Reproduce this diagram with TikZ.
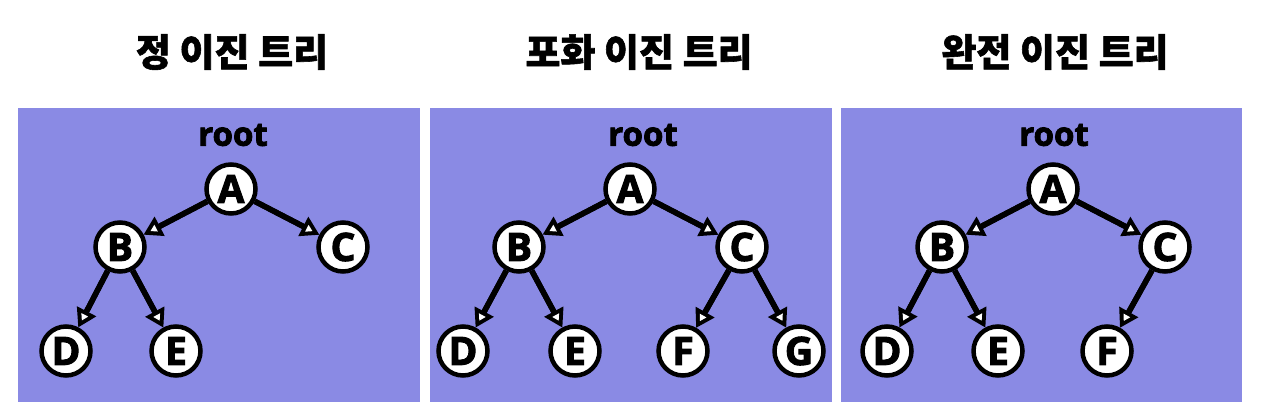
\documentclass[tikz,border=0pt]{standalone}
\usepackage{fontspec}
\setmainfont{Open Sans}[BoldFeatures={FakeBold=2.5}]
\newfontfamily\krfont{Noto Sans CJK KR}[BoldFeatures={FakeBold=1.5}]
\usepackage{tikz}
\usetikzlibrary{arrows.meta, positioning}
\definecolor{panelblue}{RGB}{138,138,228}
\tikzset{
  panel/.style    = {fill=panelblue, draw=none},
  treenode/.style = {circle, draw, line width=4.5pt, fill=white,
                     minimum size=49pt, inner sep=0pt,
                     font=\fontsize{39}{40}\selectfont\bfseries},
  rootlbl/.style  = {font=\fontsize{33}{34}\selectfont\bfseries},
  title/.style    = {font=\krfont\fontsize{38}{40}\selectfont\bfseries},
  link/.style     = {-{Triangle[length=18pt, width=22pt, line width=0pt]},
                     line width=5.5pt},
  linkhole/.style = {-{Triangle[color=white, fill=white, length=6.3pt,
                     width=7.7pt, line width=0pt]},
                     line width=5.5pt, shorten >=7.7pt},
}

\begin{document}
\begin{tikzpicture}[x=1pt, y=-1pt]
  \useasboundingbox (0,0) rectangle (1268,414);

  % panels
  \fill[panel] (18,108) rectangle (420,402);
  \fill[panel] (430,108) rectangle (832,402);
  \fill[panel] (841,108) rectangle (1242,402);

  \node[title] (t1) at (232,52) {정 이진 트리};
  \node[title] (t2) at (639,52) {포화 이진 트리};
  \node[title] (t3) at (1055,52) {완전 이진 트리};

  % full binary tree
  \node[rootlbl] (r1) at (233,135) {root};
  \node[treenode] (a1) at (231,189) {A};
  \node[treenode] (b1) at (120,247) {B};
  \node[treenode] (c1) at (343,247) {C};
  \node[treenode] (d1) at (66,351) {D};
  \node[treenode] (e1) at (176,351) {E};

  % perfect binary tree
  \node[rootlbl] (r2) at (643,135) {root};
  \node[treenode] (a2) at (630,189) {A};
  \node[treenode] (b2) at (519,247) {B};
  \node[treenode] (c2) at (742,247) {C};
  \node[treenode] (d2) at (463,351) {D};
  \node[treenode] (e2) at (575,351) {E};
  \node[treenode] (f2) at (683,351) {F};
  \node[treenode] (g2) at (799,351) {G};

  % complete binary tree
  \node[rootlbl] (r3) at (1054,135) {root};
  \node[treenode] (a3) at (1053,189) {A};
  \node[treenode] (b3) at (942,247) {B};
  \node[treenode] (c3) at (1165,247) {C};
  \node[treenode] (d3) at (887,351) {D};
  \node[treenode] (e3) at (998,351) {E};
  \node[treenode] (f3) at (1107,351) {F};

  % parent -> child links
  \foreach \u/\v in {a1/b1, a1/c1, b1/d1, b1/e1,
                     a2/b2, a2/c2, b2/d2, b2/e2, c2/f2, c2/g2,
                     a3/b3, a3/c3, b3/d3, b3/e3, c3/f3} {
    \draw[link] (\u) -- (\v);
    \draw[linkhole] (\u) -- (\v);
  }
\end{tikzpicture}
\end{document}
